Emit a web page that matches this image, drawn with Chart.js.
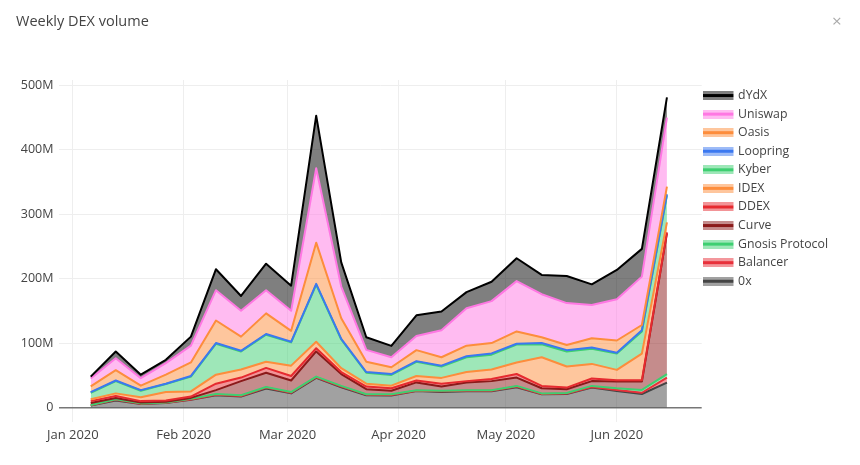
<!DOCTYPE html>
<html>
<head>
<meta charset="utf-8">
<title>Weekly DEX volume</title>
<script src="https://cdn.jsdelivr.net/npm/chart.js"></script>
<style>
  html, body { margin: 0; padding: 0; background: #fff; overflow: hidden; }
  #wrap { position: absolute; left: 0; top: 0; width: 860px; height: 465px; }
  #title { position: absolute; left: 16px; top: 11px; font: 14.5px/20px "Open Sans", sans-serif; color: #444; }
  #close { position: absolute; left: 832px; top: 10px; font: 17px/22px "Open Sans", sans-serif; color: #aaa; }
</style>
</head>
<body>
<div id="wrap"><canvas id="myChart"></canvas></div>
<div id="title">Weekly DEX volume</div>
<div id="close">×</div>
<script>
const weeks = ['2020-01-06','2020-01-13','2020-01-20','2020-01-27','2020-02-03','2020-02-10','2020-02-17','2020-02-24',
  '2020-03-02','2020-03-09','2020-03-16','2020-03-23','2020-03-30','2020-04-06','2020-04-13','2020-04-20','2020-04-27',
  '2020-05-04','2020-05-11','2020-05-18','2020-05-25','2020-06-01','2020-06-08','2020-06-15'];

// weekly volume per exchange, in millions
const zeroX = [3,11,5.5,7,12,19,17,29.5,22,46,31.5,19,18.6,25.8,24.3,25.3,25.3,31.5,20.7,21,31,25.8,21,38.8];
const balancer = [.5,1,.5,.5,.5,1,1,1.5,1,1,1,1,1,.2,1,.7,.7,1,.3,.7,1,1.6,2,7.7];
const gnosis = [.5,1,.5,.5,1,1,1,1,1,1,1.1,.7,1.1,1,.7,1,1,1.1,1,1,1.6,2.6,4.4,5.2];
const curve = [3,2,1.5,1,1.5,6,22,22,18,39,18.4,7.8,5.3,12,6.5,12,14,12.9,8,5.8,7.4,10.3,12.9,218.3];
const ddex = [3,3,2,2,2,10,5.5,7.5,7,5,3,4,4,3,4.5,2,3.4,5.5,3.6,2.5,4,2.1,2.1,1.7];
const idex = [3,4,6,13,8,14,12.5,9.5,16,10,6,4.5,4,7,9,14,14.6,18,44.4,32.6,22.7,16,41.3,15.3];
const kyber = [10,19,10,12.5,23,48,28,42,36,88.7,44.5,17,16.6,22,17.6,23,23,27.7,20,23.4,23.3,25.3,34.3,42];
const loopring = [1,1,1,.5,1,1,1,1,1,1,1,1,1.4,1,1.4,1.6,2,1.3,2,2,2,1.3,2,1.7];
const oasis = [9,16,7,14,21,35,22,32,17,63.9,32,16,10.5,17,13,16.4,16,19,9,8,14.5,19,8,11.8];
const uniswap = [12,18.5,11.5,18,26,47,40,36,31,115.4,49.1,18.4,15.5,22,42,58,65,78,66.7,65,51.5,64,75,107];
const dydx = [3,10.5,5.5,5,14,32.5,23,41,39,81.5,37.4,19.6,17.6,32,29,25,30,35.5,30,42,32,45.4,43,31.5];

const monthTicks = ['2020-01-01','2020-02-01','2020-03-01','2020-04-01','2020-05-01','2020-06-01'];
const monthLabels = ['Jan 2020','Feb 2020','Mar 2020','Apr 2020','May 2020','Jun 2020'];
const yTicks = [0,100,200,300,400,500];

// legend key: 30px band, with 3px blank on the right so it sits left of the label box
function swatch(line, fill) {
  const c = document.createElement('canvas');
  c.width = 33; c.height = 9;
  const g = c.getContext('2d');
  g.fillStyle = fill;
  g.fillRect(0, 0, 30, 9);
  g.fillStyle = line;
  g.fillRect(0, 3, 30, 3);
  return c;
}

// running total so each exchange sits on the one below, upper lines drawn over lower ones
const totals = weeks.map(() => 0);
let layer = 0;
function series(label, values, line, fill) {
  const idx = layer++;
  return {
    label: label,
    data: values.map((v, i) => {
      totals[i] += v;
      return { x: Date.parse(weeks[i]), y: totals[i] };
    }),
    order: 10 - idx,
    borderColor: line,
    backgroundColor: fill,
    borderWidth: 2,
    borderJoinStyle: 'round',
    pointRadius: 0,
    pointStyle: swatch(line, fill),
    tension: 0,
    fill: idx === 0 ? 'origin' : '-1'
  };
}

new Chart(document.getElementById('myChart'), {
  type: 'line',
  data: {
    datasets: [
      series('0x', zeroX, '#444444', 'rgba(68,68,68,0.5)'),
      series('Balancer', balancer, '#e8303a', 'rgba(232,48,58,0.5)'),
      series('Gnosis Protocol', gnosis, '#3ecf71', 'rgba(62,207,113,0.5)'),
      series('Curve', curve, '#8b1a1a', 'rgba(139,26,26,0.5)'),
      series('DDEX', ddex, '#e62a2f', 'rgba(230,42,47,0.5)'),
      series('IDEX', idex, '#fd8d3c', 'rgba(253,141,60,0.5)'),
      series('Kyber', kyber, '#3ecf71', 'rgba(62,207,113,0.5)'),
      series('Loopring', loopring, '#3b78f0', 'rgba(59,120,240,0.5)'),
      series('Oasis', oasis, '#fd8d3c', 'rgba(253,141,60,0.5)'),
      series('Uniswap', uniswap, '#ff77e3', 'rgba(255,119,227,0.5)'),
      series('dYdX', dydx, '#000000', 'rgba(0,0,0,0.5)')
    ]
  },
  options: {
    responsive: true,
    maintainAspectRatio: false,
    animation: false,
    layout: { padding: { top: 80, left: 0, right: 22, bottom: 0 } },
    scales: {
      x: {
        type: 'linear',
        min: Date.parse('2019-12-28'),
        max: Date.parse('2020-06-24T17:00:00Z'),
        afterBuildTicks: s => { s.ticks = monthTicks.map(m => ({ value: Date.parse(m) })); },
        afterFit: s => { s.height = 43.3; },
        grid: { color: '#eeeeee', lineWidth: 1, drawTicks: false },
        border: { display: false },
        ticks: {
          autoSkip: false,
          maxRotation: 0,
          padding: 6,
          color: '#444',
          font: { family: '"Open Sans", sans-serif', size: 13 },
          callback: (v, i) => monthLabels[i]
        }
      },
      y: {
        min: -21.9,
        max: 507.8,
        afterBuildTicks: s => { s.ticks = yTicks.map(v => ({ value: v })); },
        afterFit: s => { s.width = 58.5; },
        grid: {
          color: c => c.tick && c.tick.value === 0 ? '#777777' : '#eeeeee',
          lineWidth: c => c.tick && c.tick.value === 0 ? 1.5 : 1,
          drawTicks: false
        },
        border: { display: false },
        ticks: {
          padding: 5,
          color: '#444',
          font: { family: '"Open Sans", sans-serif', size: 12.5 },
          callback: v => v === 0 ? '0' : v + 'M'
        }
      }
    },
    plugins: {
      tooltip: { enabled: false },
      filler: { drawTime: 'beforeDatasetsDraw' },
      legend: {
        position: 'right',
        align: 'start',
        title: { display: true, text: ' ', padding: 0, font: { size: 3.1, lineHeight: 1 } },
        labels: {
          usePointStyle: true,
          pointStyleWidth: 24,
          padding: 6.27,
          color: '#444',
          font: { family: '"Open Sans", sans-serif', size: 12.3 }
        }
      }
    }
  }
});
</script>
</body>
</html>
